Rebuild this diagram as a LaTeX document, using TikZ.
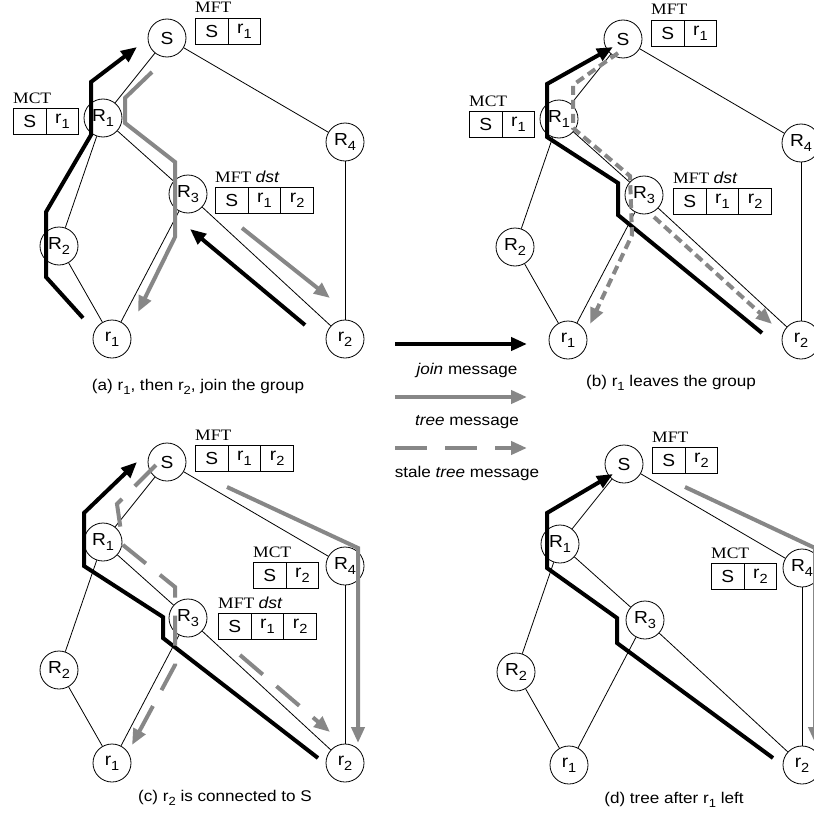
\documentclass[tikz,border=0pt]{standalone}
\usepackage{fontspec}
\setmainfont{Liberation Sans}[FakeStretch=1.1]
\newfontfamily\tms{Liberation Serif}[FakeStretch=1.1]
\usetikzlibrary{arrows.meta}
\definecolor{msggray}{RGB}{135,135,135}
\newcommand{\sbs}[1]{\raisebox{-0.3em}{\scalebox{0.76}{#1}}}
\tikzset{
 vtx/.style={circle, draw, line width=0.8bp, fill=white, minimum size=38bp, inner sep=0pt, font=\fontsize{17.5}{17.5}\selectfont},
 edge/.style={line width=0.8bp},
 cellbox/.style={draw, line width=0.8bp, minimum width=32.7bp, minimum height=26bp, inner sep=0pt, anchor=north west, font=\fontsize{17.5}{17.5}\selectfont},
 tlabel/.style={anchor=base west, inner sep=0pt, font=\tms\fontsize{16}{16}\selectfont},
 joinmsg/.style={line width=4bp, -{Triangle[length=16bp,width=13bp]}},
 treemsg/.style={line width=4bp, draw=msggray, -{Triangle[length=16bp,width=13bp,fill=msggray]}},
 stalemsg/.style={treemsg, dash pattern=on 9bp off 5bp},
 stalelong/.style={treemsg, dash pattern=on 30bp off 18bp},
 captext/.style={font=\fontsize{15.6}{17}\selectfont, inner sep=0pt},
}
\newcommand{\netw}[1]{%
 \node[vtx] (#1S) at (167,38) {S};
 \node[vtx] (#1R1) at (103,118) {R\sbs{1}};
 \node[vtx] (#1R2) at (59,246) {R\sbs{2}};
 \node[vtx] (#1R3) at (188,194) {R\sbs{3}};
 \node[vtx] (#1R4) at (345,142) {R\sbs{4}};
 \node[vtx] (#1r1) at (112,339) {r\sbs{1}};
 \node[vtx] (#1r2) at (345,339) {r\sbs{2}};
 \draw[edge] (#1S) -- (#1R1);
 \draw[edge] (#1S) -- (#1R4);
 \draw[edge] (#1R1) -- (#1R2);
 \draw[edge] (#1R1) -- (#1R3);
 \draw[edge] (#1R2) -- (#1r1);
 \draw[edge] (#1R3) -- (#1r1);
 \draw[edge] (#1R3) -- (#1r2);
 \draw[edge] (#1R4) -- (#1r2);
}
\newcommand{\celltable}[5]{%
 \node[tlabel] (#1-lab) at (#2,#3-5) {#4};
 \foreach \c [count=\i from 0] in {#5} {
  \node[cellbox] (#1-\i) at ({#2+32.7*\i},#3) {\c};
 }
}
\begin{document}
\begin{tikzpicture}[x=1bp,y=-1bp]
\useasboundingbox (0,0) rectangle (814,816);
\clip (0,0) rectangle (814,816);
% graphs
\begin{scope}\netw{a}\end{scope}
\begin{scope}[shift={(456,1)}]\netw{b}\end{scope}
\begin{scope}[shift={(0,424)}]\netw{c}\end{scope}
\begin{scope}[shift={(457,426)}]\netw{d}\end{scope}
% panel (a) messages
\draw[joinmsg] (83,318) -- (46,277) -- (46,212) -- (91,135) -- (91,82) -- (137,47);
\draw[joinmsg] (305,325) -- (190,229);
\draw[treemsg] (152,72) -- (125,98) -- (125,123) -- (175,162) -- (175,237) -- (138,312);
\draw[treemsg] (242,228) -- (330,298);
% panel (b) messages
\draw[joinmsg] (762,333) -- (618,215) -- (618,183) -- (547,137) -- (547,84) -- (613,47);
\draw[stalemsg] (618,53) -- (573,85) -- (573,128) -- (630,176) -- (632,235) -- (590,324);
\draw[stalemsg] (654,217) -- (772,324);
% panel (c) messages
\draw[joinmsg] (318,758) -- (163,638) -- (163,617) -- (84,566) -- (84,513) -- (137,462);
\draw[treemsg] (227,487) -- (358,548) -- (358,743);
\draw[stalelong] (156,465) -- (117,504) -- (123,545) -- (175,587) -- (175,665) -- (132,745);
\draw[stalelong] (240,655) -- (330,732);
% panel (d) messages
\draw[joinmsg] (773,758) -- (617,643) -- (617,618) -- (547,568) -- (547,513) -- (613,474);
\draw[treemsg] (685,487) -- (815,548) -- (815,743);
% tables
\celltable{aMFT}{195}{18}{MFT}{S,r\sbs{1}}
\celltable{aMCT}{13}{108}{MCT}{S,r\sbs{1}}
\celltable{aDST}{215}{187}{MFT {\rmfamily\itshape dst}}{S,r\sbs{1},r\sbs{2}}
\celltable{bMFT}{651}{20}{MFT}{S,r\sbs{1}}
\celltable{bMCT}{469}{111}{MCT}{S,r\sbs{1}}
\celltable{bDST}{673}{188}{MFT {\rmfamily\itshape dst}}{S,r\sbs{1},r\sbs{2}}
\celltable{cMFT}{195}{445}{MFT}{S,r\sbs{1},r\sbs{2}}
\celltable{cMCT}{253}{562}{MCT}{S,r\sbs{2}}
\celltable{cDST}{218}{613}{MFT {\rmfamily\itshape dst}}{S,r\sbs{1},r\sbs{2}}
\celltable{dMFT}{652}{447}{MFT}{S,r\sbs{2}}
\celltable{dMCT}{711}{563}{MCT}{S,r\sbs{2}}
% legend
\coordinate (j1) at (395,344); \coordinate (j2) at (527,344);
\coordinate (t1) at (395,397); \coordinate (t2) at (527,397);
\coordinate (s1) at (395,448); \coordinate (s2) at (527,448);
\draw[joinmsg] (j1) -- (j2);
\draw[treemsg] (t1) -- (t2);
\draw[treemsg, dash pattern=on 32bp off 18bp] (s1) -- (s2);
\node[captext] (jl) at (467,370) {\textit{join} message};
\node[captext] (tl) at (467,422) {\textit{tree} message};
\node[captext] (sl) at (467,473) {stale \textit{tree} message};
% captions
\node[captext] (capa) at (198,387) {(a) r\sbs{1}, then r\sbs{2}, join the group};
\node[captext] (capb) at (671,383) {(b) r\sbs{1} leaves the group};
\node[captext] (capc) at (225,798) {(c) r\sbs{2} is connected to S};
\node[captext] (capd) at (674,800) {(d) tree after r\sbs{1} left};
\end{tikzpicture}
\end{document}
